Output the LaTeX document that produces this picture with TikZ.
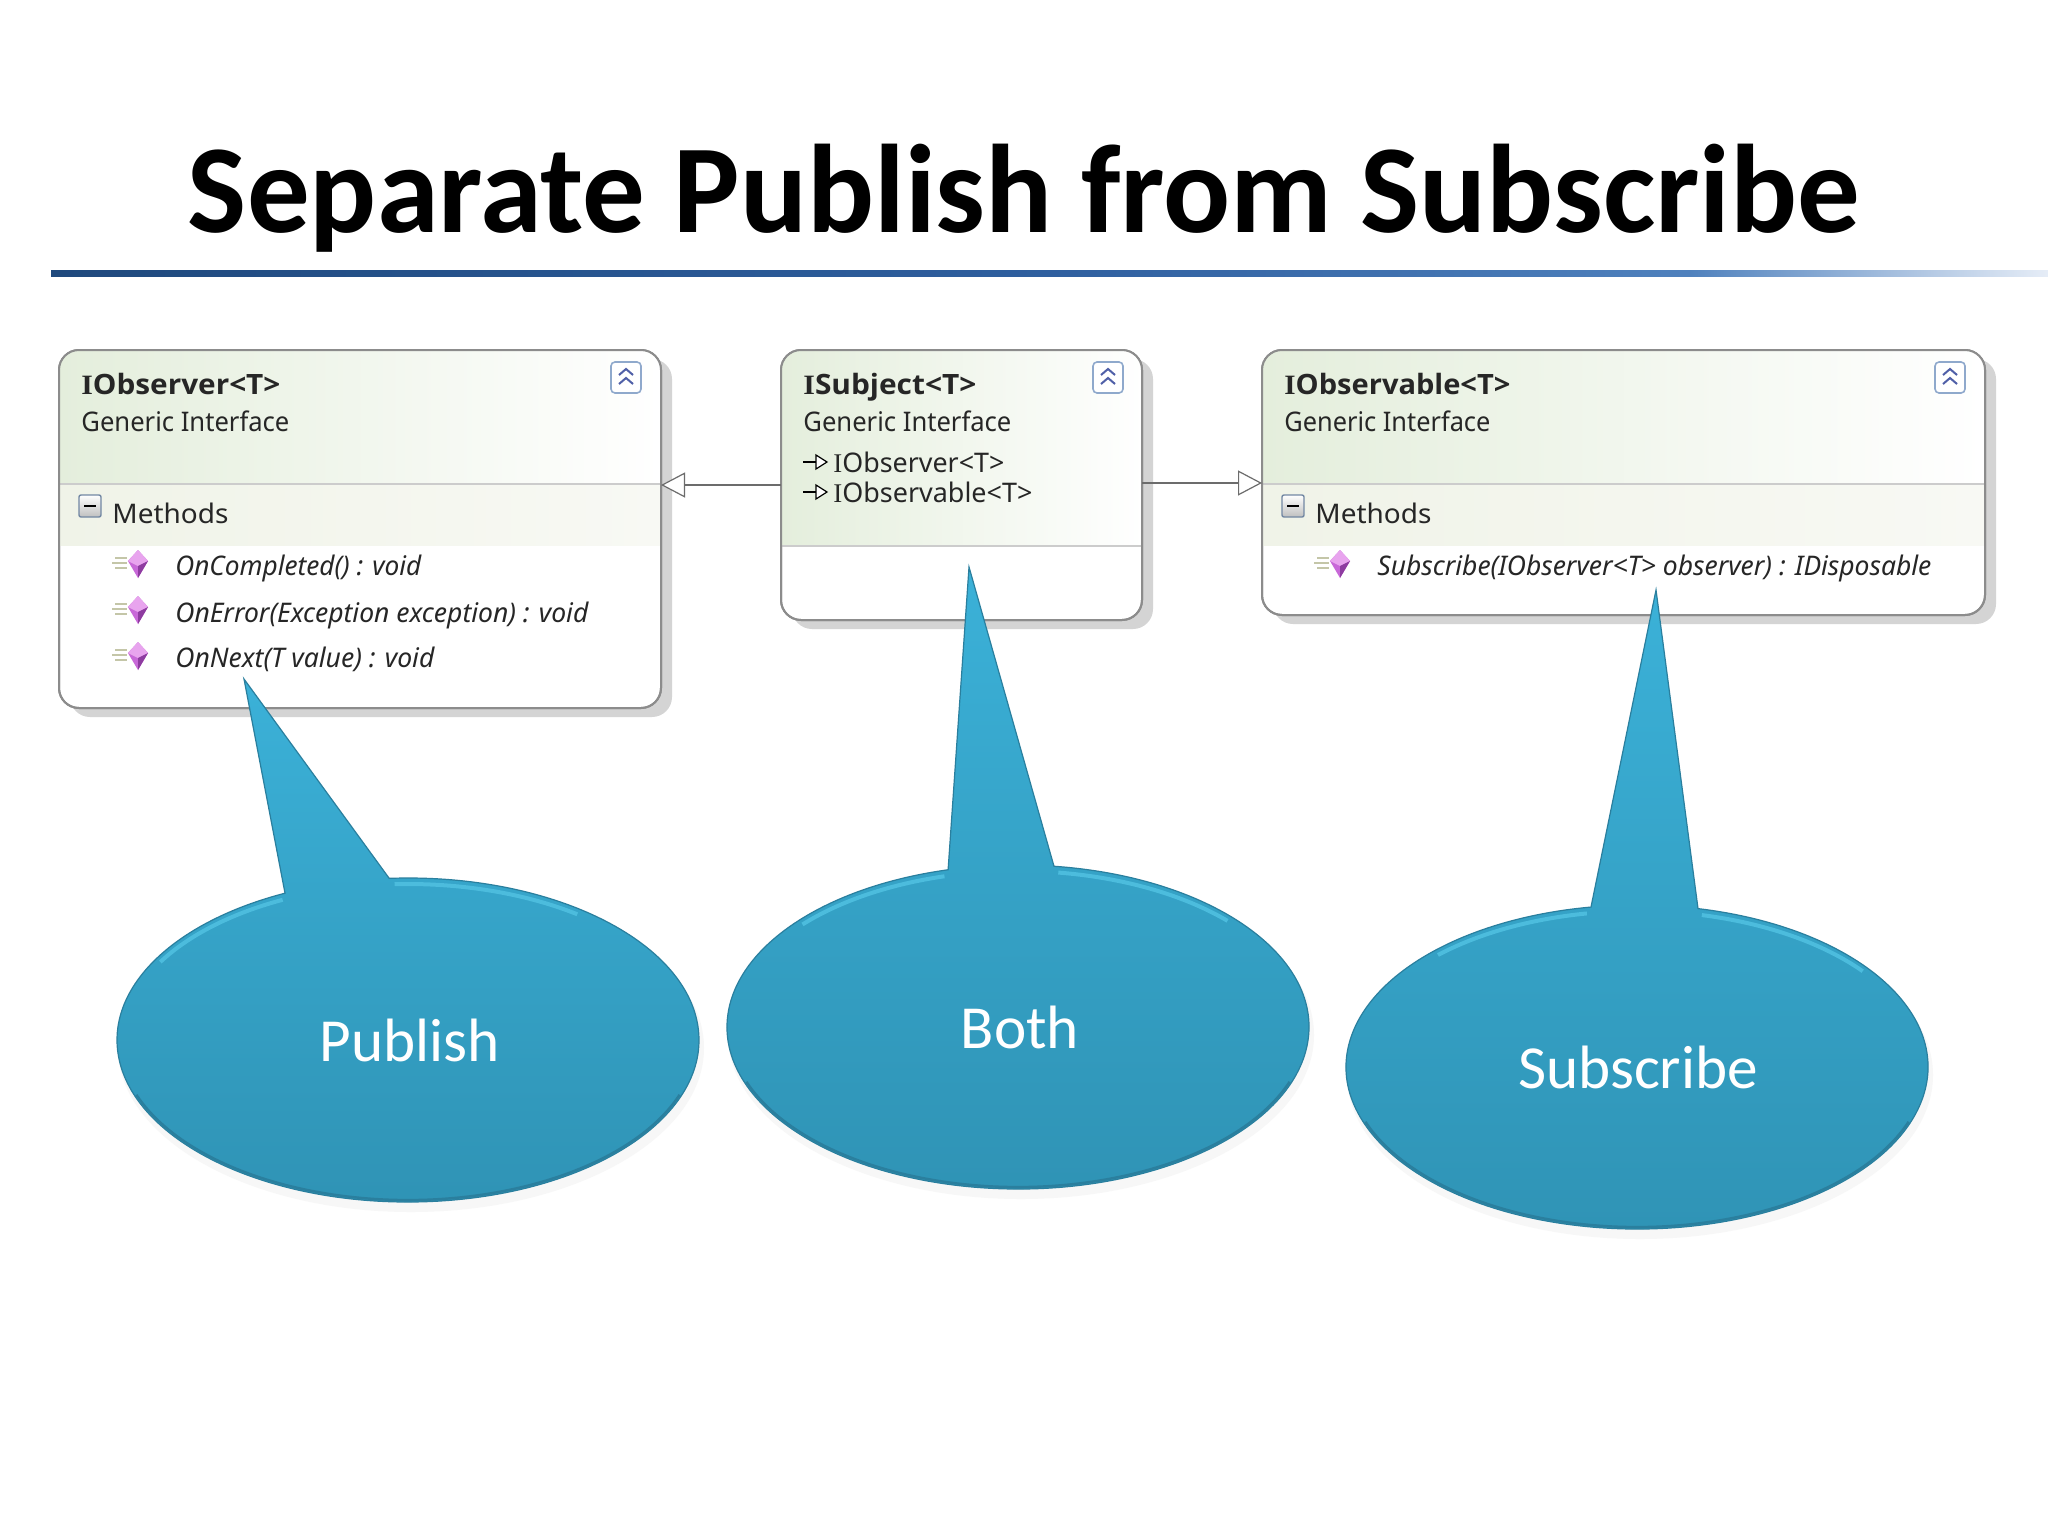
\documentclass[tikz,border=0pt]{standalone}
\usepackage{fontspec}
\usepackage{graphicx}
\setmainfont{Carlito}
\newfontfamily\umlf{Noto Sans}
\newfontfamily\umlb{Open Sans}
\newfontfamily\umlserif{Liberation Serif}
\usetikzlibrary{arrows.meta,shadows}
\definecolor{ruleA}{HTML}{1F497D}
\definecolor{ruleB}{HTML}{2F5F9F}
\definecolor{ruleC}{HTML}{4F81BD}
\definecolor{ruleD}{HTML}{E6EDF7}
\definecolor{hdrL}{HTML}{E4EEDC}
\definecolor{bandL}{HTML}{F0F3E8}
\definecolor{bandR}{HTML}{F8F9F4}
\definecolor{edgeC}{HTML}{8C8C8C}
\definecolor{shad}{HTML}{D4D4D4}
\definecolor{bubT}{HTML}{3BB1D8}
\definecolor{bubM}{HTML}{38ABCF}
\definecolor{bubB}{HTML}{2F93B5}
\definecolor{bubE}{HTML}{2A7F9E}
\definecolor{bubH}{HTML}{4CBCDD}
\definecolor{chev}{HTML}{5060A8}
\definecolor{chevE}{HTML}{8FA9CC}
\definecolor{gemA}{HTML}{C868D8}
\definecolor{gemB}{HTML}{E8A4EE}
\definecolor{gemC}{HTML}{8E3CA0}
\definecolor{gemL}{HTML}{C4C6A8}
\pgfdeclarehorizontalshading{titlerule}{100bp}{color(0bp)=(ruleA); color(25bp)=(ruleA); color(50bp)=(ruleB); color(66bp)=(ruleC); color(75bp)=(ruleD); color(100bp)=(ruleD)}
\tikzset{
  x=0.5pt,y=-0.5pt,
  umlbox/.style={anchor=north west,rectangle,rounded corners=10pt,inner sep=0pt,outer sep=0pt,draw=edgeC,line width=1pt,fill=white,
     drop shadow={shadow xshift=5.5pt,shadow yshift=-4.5pt,fill=shad,opacity=1}},
  umlline/.style={rounded corners=10pt,draw=edgeC,line width=1pt},
  txt/.style={anchor=base west,inner sep=0pt,text=black!85},
  conn/.style={draw=gray!85!black,line width=1pt,-{Triangle[open,fill=white,length=12pt,width=12.5pt,line width=0.6pt]}},
  bubbleshape/.style={top color=bubT,middle color=bubM,bottom color=bubB,draw=bubE,line width=0.6pt},
  bubbletext/.style={text=white,font=\fontsize{30.6}{36}\selectfont,inner sep=0pt,anchor=base}
}
\newcommand\fitw[2]{\resizebox{#1pt}{\height}{#2}}
\newcommand\nameF{\umlb\bfseries\fontsize{14}{17}\selectfont}
\newcommand\subF{\umlf\fontsize{13.5}{17}\selectfont}
\newcommand\methF{\umlf\itshape\fontsize{13.5}{17}\selectfont}
\newcommand\SI{{\umlserif I}}
\newcommand\collapseicon[2]{%
  \begin{scope}[shift={(#1,#2)}]
    \draw[draw=chevE,fill=white,rounded corners=2pt,line width=0.8pt] (0,0) rectangle (30,31);
    \draw[chev,line width=1pt] (8,13)--(15,7)--(22,13) (8,22)--(15,16)--(22,22);
  \end{scope}}
\newcommand\minusicon[2]{%
  \begin{scope}[shift={(#1,#2)}]
    \draw[draw=chevE!80!black,top color=white,bottom color=black!25,rounded corners=1pt,line width=0.7pt] (0,0) rectangle (22,22);
    \draw[black,line width=1pt] (5,11)--(17,11);
  \end{scope}}
\newcommand\gemicon[2]{%
  \begin{scope}[shift={(#1,#2)}]
    \draw[gemL,line width=0.6pt] (-23,-6)--(-11,-6) (-26,-1)--(-11,-1) (-23,4)--(-11,4);
    \fill[gemA] (0,-14)--(10,-3)--(0,14)--(-10,-3)--cycle;
    \fill[gemB] (0,-14)--(10,-3)--(0,2)--(-10,-3)--cycle;
    \fill[gemC] (0,2)--(10,-3)--(0,14)--cycle;
  \end{scope}}
\newcommand\realizeicon[2]{%
  \begin{scope}[shift={(#1,#2)}]
    \draw[black,line width=0.8pt] (0,0)--(14,0);
    \draw[black,fill=white,line width=0.6pt] (13,-7)--(24,0)--(13,7)--cycle;
  \end{scope}}
\newcommand\bubbleshape[6]{%
  \fill[black!3] ({#1+3},{#2+8}) ellipse [x radius=293,y radius=164];
  \draw[bubbleshape] ({#1+291*cos(#3)},{#2+162*sin(#3)}) arc[start angle=#3,end angle=#4,x radius=291,y radius=162] -- (#5,#6) -- cycle;
  \draw[bubH,line width=2pt] ({#1+286*cos(#3+1)},{#2+156*sin(#3+1)}) arc[start angle=#3+1,end angle=#3+40,x radius=286,y radius=156];
  \draw[bubH,line width=2pt] ({#1+286*cos(#4-1)},{#2+156*sin(#4-1)}) arc[start angle=#4-1,end angle=#4-35,x radius=286,y radius=156];
  \draw[bubE,line width=1.2pt] ({#1+289*cos(20)},{#2+160*sin(20)}) arc[start angle=20,end angle=160,x radius=289,y radius=160];
}
\begin{document}
\begin{tikzpicture}
\useasboundingbox (0,0) rectangle (2048,1536);
\fill[white] (0,0) rectangle (2048,1536);
\node[anchor=base,inner sep=0pt,text=black,font=\bfseries\fontsize{63}{70}\selectfont] (title) at (1024,232) {\resizebox{836pt}{\height}{Separate Publish from Subscribe}};
\shade[shading=titlerule] (51,270) rectangle (2048,276);
\node[umlbox,minimum width=301pt,minimum height=179pt] (obs) at (59,350) {};
\node[umlbox,minimum width=180.5pt,minimum height=135pt] (subj) at (781,350) {};
\node[umlbox,minimum width=361.5pt,minimum height=132.5pt] (obsv) at (1262,350) {};
\begin{scope}
  \clip[rounded corners=10pt] (obs.north west) rectangle (obs.south east);
  \shade[left color=hdrL,right color=white,shading angle=90] (59,350) rectangle (661,484);
  \shade[left color=bandL,right color=bandR,shading angle=90] (59,484) rectangle (661,545);
  \draw[black!20,line width=0.8pt] (59,484)--(661,484);
\end{scope}
\begin{scope}
  \clip[rounded corners=10pt] (subj.north west) rectangle (subj.south east);
  \shade[left color=hdrL,right color=white,shading angle=90] (781,350) rectangle (1144,546);
  \draw[black!20,line width=0.8pt] (781,546)--(1144,546);
\end{scope}
\begin{scope}
  \clip[rounded corners=10pt] (obsv.north west) rectangle (obsv.south east);
  \shade[left color=hdrL,right color=white,shading angle=90] (1262,350) rectangle (1985,484);
  \shade[left color=bandL,right color=bandR,shading angle=90] (1262,484) rectangle (1985,545);
  \draw[black!20,line width=0.8pt] (1262,484)--(1985,484);
\end{scope}
\draw[umlline] (obs.north west) rectangle (obs.south east);
\draw[umlline] (subj.north west) rectangle (subj.south east);
\draw[umlline] (obsv.north west) rectangle (obsv.south east);
\collapseicon{611}{362}\collapseicon{1093}{362}\collapseicon{1935}{362}
\minusicon{79}{495}\minusicon{1282}{495}
\gemicon{138}{564}\gemicon{138}{610}\gemicon{138}{656}\gemicon{1340}{564}
\realizeicon{803}{462}\realizeicon{803}{492}
\node[txt,font=\nameF] (t1) at (81,394) {\fitw{99.5}{\SI Observer<T>}};
\node[txt,font=\subF] (t2) at (81,431) {\fitw{104}{Generic Interface}};
\node[txt,font=\subF] (t3) at (112,523) {\fitw{58}{Methods}};
\node[txt,font=\methF] (t4) at (175,575) {\fitw{123}{OnCompleted() : void}};
\node[txt,font=\methF] (t5) at (175,622) {\fitw{206.5}{OnError(Exception exception) : void}};
\node[txt,font=\methF] (t6) at (175,667) {\fitw{129.5}{OnNext(T value) : void}};
\node[txt,font=\nameF] (t7) at (803,394) {\fitw{86.5}{\SI Subject<T>}};
\node[txt,font=\subF] (t8) at (803,431) {\fitw{104}{Generic Interface}};
\node[txt,font=\subF] (t9) at (833,472) {\fitw{85.5}{\SI Observer<T>}};
\node[txt,font=\subF] (t10) at (833,502) {\fitw{99.5}{\SI Observable<T>}};
\node[txt,font=\nameF] (t11) at (1284,394) {\fitw{113}{\SI Observable<T>}};
\node[txt,font=\subF] (t12) at (1284,431) {\fitw{103}{Generic Interface}};
\node[txt,font=\subF] (t13) at (1315,523) {\fitw{58}{Methods}};
\node[txt,font=\methF] (t14) at (1377,575) {\fitw{277}{Subscribe(IObserver<T> observer) : IDisposable}};
\coordinate (cl) at (781,485);
\coordinate (cr) at (1142,483);
\draw[conn] (cl) -- (obs.east |- cl);
\draw[conn] (cr) -- (obsv.west |- cr);
\bubbleshape{408}{1040}{-93.7}{245}{244}{679}
\bubbleshape{1018}{1027}{-82.9}{256.1}{969}{567}
\bubbleshape{1637}{1067}{-77.9}{260.9}{1656}{590}
\node[bubbletext] (b1) at (410,1061) {Publish};
\node[bubbletext] (b2) at (1020,1048) {Both};
\node[bubbletext] (b3) at (1638,1088) {Subscribe};
\end{tikzpicture}
\end{document}
